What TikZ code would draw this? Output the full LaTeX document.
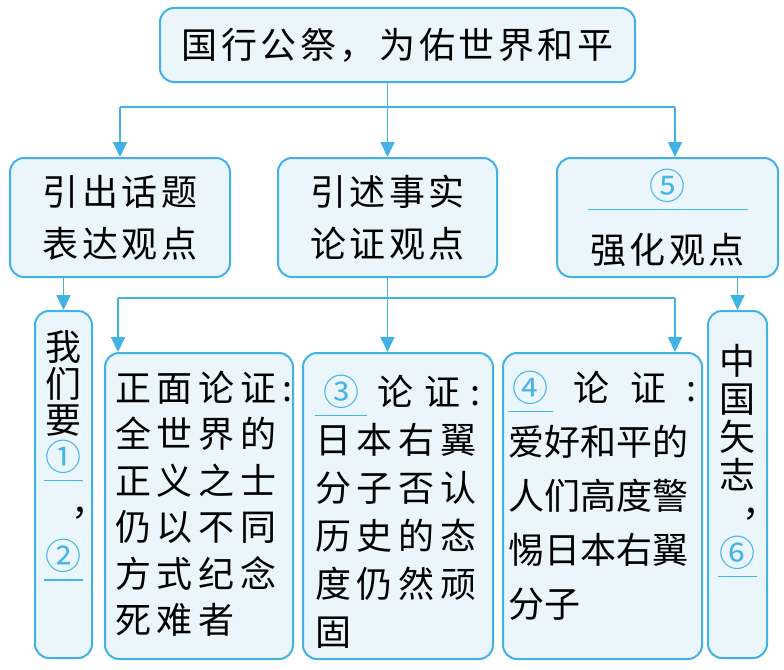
\documentclass[tikz,border=0pt]{standalone}
\usepackage{fontspec}
\newfontfamily\cjk{Noto Sans CJK SC}
\newfontfamily\cjkhead[LetterSpace=10]{Noto Sans CJK SC}
\newfontfamily\cjkwide[LetterSpace=16]{Noto Sans CJK SC}
\usetikzlibrary{arrows.meta}
\definecolor{linecyan}{RGB}{64,178,228}
\definecolor{boxfill}{RGB}{234,246,251}
\definecolor{numcyan}{RGB}{70,180,228}
\newcommand\blankno[2][1.3em]{{\color{numcyan}\makebox[#1]{#2}\llap{\raisebox{-0.3em}[0pt][0pt]{\rule{#1}{1.3pt}}}}}

\tikzset{
  mapbox/.style={draw=linecyan, fill=boxfill, line width=2pt, rounded corners=14pt, inner sep=0pt},
  headfont/.style={font=\cjkhead\fontsize{36}{52}\selectfont},
  link/.style={draw=linecyan, line width=1.8pt},
  linkarrow/.style={link, -{Triangle[width=14pt,length=15pt]}},
}

\begin{document}
\begin{tikzpicture}[x=1pt,y=-1pt]
\useasboundingbox (0,0) rectangle (784,669);

% top and second row
\node[mapbox, headfont, minimum width=475pt, minimum height=74pt] (title) at (397.5,45) {国行公祭，为佑世界和平};
\node[mapbox, headfont, align=center, minimum width=220pt, minimum height=119pt] (intro) at (120,217.5) {引出话题\\表达观点};
\node[mapbox, headfont, align=center, minimum width=219pt, minimum height=119pt] (facts) at (387.5,217.5) {引述事实\\论证观点};
\node[mapbox, headfont, align=center, minimum width=221pt, minimum height=119pt] (stress) at (667.5,217.5) {\blankno[160pt]{⑤}\\[12pt]强化观点};

% third row
\node[mapbox, anchor=north, inner ysep=20pt, font=\cjk\fontsize{36}{36.5}\selectfont] (we) at (63.5,310)
  {\parbox[t][307pt][t]{57pt}{\centering 我\\们\\要\\\blankno[1.1em]{①}\\[9pt]\makebox[0pt][l]{\hspace{0.22em}，}\\[17.5pt]\blankno[1.1em]{②}}};
\node[mapbox, anchor=north, inner xsep=10pt, inner ysep=18pt, font=\cjkwide\fontsize{36}{46.5}\selectfont] (pos) at (199,352)
  {\parbox[t][270pt][t]{168pt}{\raggedright 正面论证:\\全世界的\\正义之士\\仍以不同\\方式纪念\\死难者}};
\node[mapbox, anchor=north, inner xsep=12pt, inner ysep=22pt, font=\cjkwide\fontsize{36}{48}\selectfont] (neg) at (398,352)
  {\parbox[t][262pt][t]{166pt}{\raggedright \blankno[1.45em]{③}\hfill 论\hfill 证\hfill :\\日本右翼\\分子否认\\历史的态\\度仍然顽\\固}};
\node[mapbox, anchor=north, inner xsep=5pt, inner ysep=18pt, font=\cjk\fontsize{36}{54}\selectfont] (warn) at (602.5,352)
  {\parbox[t][270pt][t]{189pt}{\raggedright \blankno[1.25em]{④}\hfill 论\hfill 证\hfill :\\爱好和平的\\人们高度警\\惕日本右翼\\分子}};
\node[mapbox, anchor=north, inner ysep=33pt, font=\cjk\fontsize{36}{38}\selectfont] (china) at (737.5,310)
  {\parbox[t][281pt][t]{59pt}{\centering 中\\国\\矢\\志\\[-10pt]\makebox[0pt][l]{\hspace{0.15em}，}\\[12pt]\blankno[1.1em]{⑥}}};

% connectors
\coordinate (rowL) at (120,107);
\coordinate (rowR) at (675,107);
\coordinate (subL) at (118,298);
\coordinate (subR) at (675,298);
\draw[linkarrow] (title.south -| facts.north) -- (facts.north);
\draw[link] (rowL) -- (rowR);
\draw[linkarrow] (rowL) -- (rowL |- intro.north);
\draw[linkarrow] (rowR) -- (rowR |- stress.north);
\draw[linkarrow] (intro.south -| we.north) -- (we.north);
\draw[linkarrow] (stress.south -| china.north) -- (china.north);
\draw[linkarrow] (facts.south) -- (facts.south |- neg.north);
\draw[link] (subL) -- (subR);
\draw[linkarrow] (subL) -- (subL |- pos.north);
\draw[linkarrow] (subR) -- (subR |- warn.north);
\end{tikzpicture}
\end{document}
